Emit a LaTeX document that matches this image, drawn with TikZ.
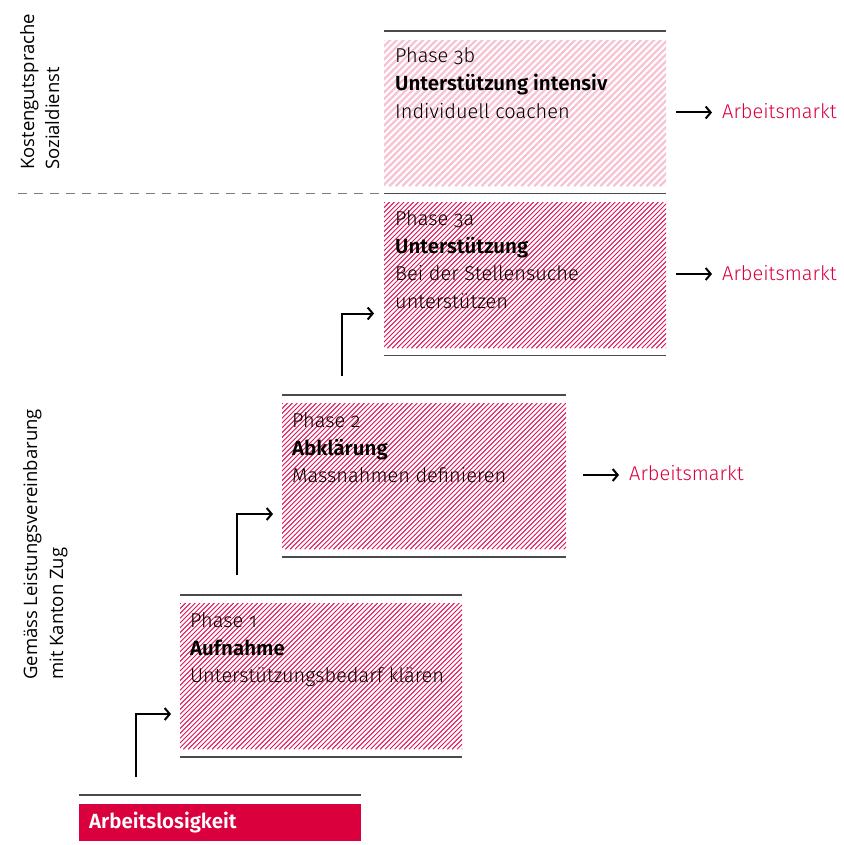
\documentclass[tikz,border=0pt]{standalone}
\usepackage{fontspec}
\setmainfont{Fira Sans}[UprightFont=* Light, BoldFont=* SemiBold, Numbers=OldStyle]
\newfontfamily\labfont{Open Sans}
\usetikzlibrary{arrows.meta}
\definecolor{cred}{RGB}{218,0,62}
\definecolor{chatch}{RGB}{222,20,85}
\definecolor{cpink}{RGB}{247,196,212}
\definecolor{cline}{RGB}{75,75,75}
\begin{document}
\begin{tikzpicture}[x=1pt,y=-1pt,
  rule/.style={draw=cline, line width=1.3pt},
  hatch/.style={rectangle, anchor=north west, inner sep=0pt, minimum width=282pt, minimum height=146pt,
    path picture={\foreach \i in {-160,-155.2,...,300}{\draw[chatch, line width=0.95pt] ([xshift=\i pt]path picture bounding box.south west) -- ++(170pt,170pt);}}},
  phatch/.style={rectangle, anchor=north west, inner sep=0pt, minimum width=282pt, minimum height=146pt,
    path picture={\foreach \i in {-160,-153.4,...,300}{\draw[cpink, line width=2.3pt] ([xshift=\i pt]path picture bounding box.south west) -- ++(170pt,170pt);}}},
  txt/.style={anchor=base west, inner sep=0pt, font=\fontsize{20}{24}\selectfont},
  btxt/.style={txt, font=\fontsize{20.5}{24}\selectfont\bfseries},
  mkt/.style={txt, text=cred},
  lab/.style={rotate=90, anchor=base west, inner sep=0pt, font=\labfont\fontsize{18.5}{22}\selectfont},
  arr/.style={line width=2pt, -{Straight Barb[length=5pt,width=12pt]}},
]
\useasboundingbox (0,0) rectangle (843,845);

% left labels
\node[lab] (k1) at (34,170) {Kostengutsprache};
\node[lab] (k2) at (59,170) {Sozialdienst};
\node[lab] (g1) at (37,680) {Gemäss Leistungsvereinbarung};
\node[lab] (g2) at (63,680) {mit Kanton Zug};
\draw[draw={rgb,255:red,125;green,125;blue,125}, line width=1.4pt, dash pattern=on 9pt off 7pt] (18,193.5) -- (384,193.5);

% Phase 3b
\draw[rule] (384,31) -- (666,31);
\node[phatch] (h3b) at (384,40) {};
\node[txt] (t3b1) at (395,63) {Phase 3b};
\node[btxt] (t3b2) at (395,91) {Unterstützung intensiv};
\node[txt] (t3b3) at (395,118.5) {Individuell coachen};

% Phase 3a
\draw[rule] (384,193.5) -- (666,193.5);
\node[hatch] (h3a) at (384,202) {};
\node[txt] (t3a1) at (395,225) {Phase 3a};
\node[btxt] (t3a2) at (395,253) {Unterstützung};
\node[txt] (t3a3) at (395,280.5) {Bei der Stellensuche};
\node[txt] (t3a4) at (395,308) {unterstützen};
\draw[rule] (384,355.5) -- (666,355.5);

% Phase 2
\draw[rule] (282,395) -- (566,395);
\node[hatch, minimum width=284pt] (h2) at (282,403) {};
\node[txt] (t21) at (292,427) {Phase 2};
\node[btxt] (t22) at (292,455) {Abklärung};
\node[txt] (t23) at (292,482.5) {Massnahmen definieren};
\draw[rule] (282,557) -- (566,557);

% Phase 1
\draw[rule] (180,595) -- (462,595);
\node[hatch] (h1) at (180,603) {};
\node[txt] (t11) at (190,627) {Phase 1};
\node[btxt] (t12) at (190,655) {Aufnahme};
\node[txt] (t13) at (190,682.5) {Unterstützungsbedarf klären};
\draw[rule] (180,757) -- (462,757);

% Arbeitslosigkeit
\draw[rule] (79,795) -- (361,795);
\node[rectangle, fill=cred, anchor=north west, minimum width=282pt, minimum height=37pt, inner sep=0pt] (al) at (79,804) {};
\node[btxt, text=white, font=\fontsize{20.5}{24}\selectfont\bfseries] (alt) at (89,828.5) {Arbeitslosigkeit};

% Arbeitsmarkt
\node[mkt] (m3b) at (722,118.5) {Arbeitsmarkt};
\node[mkt] (m3a) at (722,280) {Arbeitsmarkt};
\node[mkt] (m2) at (629,480) {Arbeitsmarkt};
\coordinate (s3b) at (676,112.5);
\coordinate (s3a) at (676,274);
\coordinate (s2) at (583,475);
\draw[arr, shorten >=10pt] (s3b) -- (s3b -| m3b.west);
\draw[arr, shorten >=10pt] (s3a) -- (s3a -| m3a.west);
\draw[arr, shorten >=10pt] (s2) -- (s2 -| m2.west);

% corner arrows
\coordinate (v1) at (136,777);
\coordinate (e1) at (171,714);
\coordinate (v2) at (237,575);
\coordinate (e2) at (273,514);
\coordinate (v3) at (342,376);
\coordinate (e3) at (374,313.5);
\draw[arr] (v1) |- (e1);
\draw[arr] (v2) |- (e2);
\draw[arr] (v3) |- (e3);
\end{tikzpicture}
\end{document}
